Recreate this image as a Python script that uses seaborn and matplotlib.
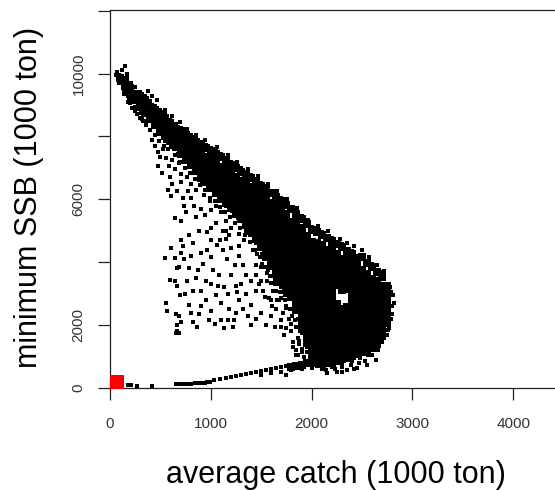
import matplotlib
matplotlib.use('Agg')
import matplotlib.pyplot as plt
import pandas as pd
import seaborn as sns

# solid part of the cloud, ssb values by catch column
core_catch = [100, 150, 200, 250, 300, 350, 400, 450, 500, 550, 600, 650, 700, 750, 800, 850, 900, 950,
              1000, 1050, 1100, 1150, 1200, 1250, 1300, 1350, 1400, 1450, 1500, 1550, 1600, 1650, 1700,
              1750, 1800, 1850, 1900, 1950, 2000, 2050, 2100, 2150, 2200, 2250, 2300, 2350, 2400, 2450,
              2500, 2550, 2600, 2650, 2700, 2750]
core_ssb = [
    [9850], [9600, 9780], [9350, 9550], [9150, 9350], [8950, 9150, 9300], [8750, 8950, 9150],
    [8550, 8750, 8950], [8350, 8550, 8750, 8850], [8200, 8400, 8600, 8720], [8000, 8200, 8400, 8580],
    [7850, 8050, 8250, 8430], [7650, 7850, 8050, 8250], [7450, 7650, 7850, 8050, 8170],
    [7250, 7450, 7650, 7850, 8050], [7100, 7300, 7500, 7700, 7920], [6900, 7100, 7300, 7500, 7700, 7830],
    [6720, 6920, 7120, 7320, 7520, 7720], [6550, 6750, 6950, 7150, 7350, 7620],
    [6350, 6550, 6750, 6950, 7150, 7350, 7530], [6200, 6400, 6600, 6800, 7000, 7200, 7430],
    [6020, 6220, 6420, 6620, 6820, 7020, 7330], [5880, 6080, 6280, 6480, 6680, 6880, 7080, 7220],
    [5720, 5920, 6120, 6320, 6520, 6720, 6920, 7090], [5520, 5720, 5920, 6120, 6320, 6520, 6720, 6980],
    [5370, 5570, 5770, 5970, 6170, 6370, 6570, 6880], [5170, 5370, 5570, 5770, 5970, 6170, 6370, 6570, 6780],
    [4980, 5180, 5380, 5580, 5780, 5980, 6180, 6380, 6670], [4730, 4930, 5130, 5330, 5530, 5730, 5930, 6130, 6330, 6560],
    [4470, 4670, 4870, 5070, 5270, 5470, 5670, 5870, 6070, 6270, 6430],
    [4170, 4370, 4570, 4770, 4970, 5170, 5370, 5570, 5770, 5970, 6170, 6320],
    [3880, 4080, 4280, 4480, 4680, 4880, 5080, 5280, 5480, 5680, 5880, 6190],
    [3640, 3840, 4040, 4240, 4440, 4640, 4840, 5040, 5240, 5440, 5640, 5840, 6060],
    [3380, 3580, 3780, 3980, 4180, 4380, 4580, 4780, 4980, 5180, 5380, 5580, 5780, 5940],
    [3130, 3330, 3530, 3730, 3930, 4130, 4330, 4530, 4730, 4930, 5130, 5330, 5530, 5810],
    [680, 2880, 3080, 3280, 3480, 3680, 3880, 4080, 4280, 4480, 4680, 4880, 5080, 5280, 5680],
    [700, 2480, 2680, 2880, 3080, 3280, 3480, 3680, 3880, 4080, 4280, 4480, 4680, 4880, 5080, 5280, 5540],
    [720, 1880, 2080, 2280, 2480, 2680, 2880, 3080, 3280, 3480, 3680, 3880, 4080, 4280, 4480, 4680, 4880, 5080, 5380],
    [780, 1420, 1620, 1820, 2020, 2220, 2420, 2620, 2820, 3020, 3220, 3420, 3620, 3820, 4020, 4220, 4420, 4620, 4820, 5200],
    [840, 1040, 1240, 1440, 1640, 1840, 2040, 2240, 2440, 2640, 2840, 3040, 3240, 3440, 3640, 3840, 4040, 4240, 4440, 4640, 5030],
    [800, 1000, 1200, 1400, 1600, 1800, 2000, 2200, 2400, 2600, 2800, 3000, 3200, 3400, 3600, 3800, 4000, 4200, 4400, 4600, 4960],
    [760, 960, 1160, 1360, 1560, 1760, 1960, 2160, 2360, 2560, 2760, 2960, 3160, 3360, 3560, 3760, 3960, 4160, 4360, 4560, 4880],
    [780, 980, 1180, 1380, 1580, 1780, 1980, 2180, 2380, 2580, 2780, 2980, 3180, 3380, 3580, 3780, 3980, 4180, 4380, 4780],
    [810, 1010, 1210, 1410, 1610, 1810, 2010, 2210, 2410, 2610, 2810, 3010, 3210, 3410, 3610, 3810, 4010, 4210, 4410, 4680],
    [860, 1060, 1260, 1460, 1660, 1860, 2060, 2260, 2460, 2660, 3260, 3460, 3660, 3860, 4060, 4260, 4570],
    [910, 1110, 1310, 1510, 1710, 1910, 2110, 2310, 2510, 3110, 3310, 3510, 3710, 3910, 4110, 4470],
    [960, 1160, 1360, 1560, 1760, 1960, 2160, 2360, 2560, 3160, 3360, 3560, 3760, 3960, 4160, 4370],
    [1020, 1220, 1420, 1620, 1820, 2020, 2220, 2420, 2620, 2820, 3020, 3220, 3420, 3620, 3820, 4020, 4270],
    [1080, 1280, 1480, 1680, 1880, 2080, 2280, 2480, 2680, 2880, 3080, 3280, 3480, 3680, 3880, 4120],
    [1160, 1360, 1560, 1760, 1960, 2160, 2360, 2560, 2760, 2960, 3160, 3360, 3560, 3760, 4150],
    [1210, 1410, 1610, 1810, 2010, 2210, 2410, 2610, 2810, 3010, 3210, 3410, 3610, 3990],
    [1260, 1460, 1660, 1860, 2060, 2260, 2460, 2660, 2860, 3060, 3260, 3460, 3850],
    [1410, 1610, 1810, 2010, 2210, 2410, 2610, 2810, 3010, 3210, 3410, 3700],
    [1650, 1850, 2050, 2250, 2450, 2650, 2850, 3050, 3250, 3520],
    [2060, 2260, 2460, 2660, 2860, 3060, 3240],
]

# small rough dots on the rim of the cloud and the lower tail
rim_catch = [90, 130, 170, 210, 250, 300, 350, 400, 450, 500, 550, 600, 650, 700, 750, 800, 850, 900,
             950, 1000, 1050, 1100, 1150, 1200, 1250, 1300, 1350, 1400, 1450, 1500, 1550, 1600, 1650,
             1700, 1750, 1800, 1850, 1900, 1950, 2000, 2100, 2200, 2300, 2400, 2500, 2600, 2680, 2740,
             2780, 2800, 2790, 2770, 2720, 2640, 2560, 2480, 2400, 2300, 2200, 2100, 2000, 1950, 1900, 1870,
             1830, 1770, 1700, 1640, 1570, 1510, 1450, 1390, 1330, 1270, 1210, 1150, 1090, 1030, 970, 910,
             850, 790, 730, 670, 610, 550, 490, 430, 370, 310, 250, 190, 140,
             1030, 1090, 1150, 1200, 1250, 1300, 1350, 1400, 1450, 1500, 1550, 1600, 1650, 1700, 1750, 1800,
             1850, 1900, 1950, 2000, 1500, 1600, 1700, 1800, 1900, 2000]
rim_ssb = [9950, 9850, 9800, 9700, 9560, 9420, 9270, 9120, 8970, 8850, 8700, 8520, 8400, 8270, 8150, 8030, 7930, 7830,
           7730, 7630, 7530, 7430, 7300, 7180, 7080, 6980, 6870, 6770, 6650, 6530, 6410, 6270, 6150,
           6030, 5900, 5770, 5630, 5470, 5290, 5120, 4970, 4780, 4570, 4370, 4230, 3930, 3680, 3300,
           2950, 2600, 2200, 1900, 1600, 1230, 1060, 950, 850, 760, 670, 620, 820, 1150, 1750, 2200,
           2650, 2950, 3200, 3450, 3750, 4250, 4600, 4850, 5170, 5420, 5620, 5800, 5980, 6180, 6350, 6540,
           6830, 7020, 7220, 7440, 7650, 7860, 8070, 8320, 8500, 8750, 8950, 9150, 9420,
           240, 280, 310, 340, 370, 400, 440, 470, 510, 540, 570, 610, 640, 670, 700, 720,
           740, 770, 810, 840, 420, 490, 520, 560, 600, 640]

# separate dots, inside the fan, along the edge and near zero
dot_catch = [60, 90, 70, 120, 150, 170, 135, 200, 250, 300, 330, 380, 420, 470, 550, 620, 690, 760, 850, 940,
             1060, 1170, 1260, 1370, 1470, 1570, 1660, 1760, 1860, 1960, 2060, 2160, 2280, 2350, 2420, 2500, 2570, 2650, 2720, 2780,
             2810, 2820, 2800, 2790, 2760, 2750, 2700, 2660, 2600, 2530, 2470, 2390, 2300, 2230, 2140,
             420, 450, 480, 500, 530, 560, 590, 620, 640, 680, 700, 600, 620, 700, 760, 800, 850, 880, 770, 720, 660, 800,
             930, 990, 1050, 1000, 900, 940, 1100, 1150, 1200, 1120, 1050, 850, 750, 700, 640, 880, 960, 1000, 1280, 1330,
             1350, 1420, 545, 640, 660, 680, 700, 720, 600, 640, 660, 690, 740, 560, 570, 650, 680, 700, 660, 665, 650, 680,
             780, 800, 820, 860, 880, 900, 950, 1000, 900, 850, 870, 920, 900, 960, 1000, 1020, 1080, 1130, 1170, 1100,
             1000, 1040, 1100, 1130, 1220, 1250, 1180, 1280, 1350, 1400, 1450, 1500, 1550, 1600, 1650, 1700, 1750, 1300, 1350, 1400,
             1450, 1500, 1200, 1240, 1160, 1120, 1060, 1200, 1280, 1320, 1450, 1500, 1560, 1620, 1600, 1750, 1730, 1800, 1780, 1850,
             1150, 1000, 800, 780, 760, 820, 1050, 980, 1230, 1400, 1370, 1480, 1540, 1610, 1680, 1740, 1810, 1870, 1700, 1820,
             180, 195, 210, 270, 415, 650, 680, 710, 740, 770, 800, 840, 870, 900, 940, 960, 990,
             1880, 1900, 1920, 1950, 2050, 2150, 2250, 2350, 2450, 2550, 2640, 1750, 1850, 2300, 2420,
             180, 220, 270, 320, 360, 400, 450, 490, 540, 580, 640, 690, 740, 790, 840, 890, 940, 990, 1040, 1090,
             1140, 1190, 1240, 1290, 1340, 1390, 1440, 1490, 1540, 1590, 1640, 1690, 1740, 1790, 1840, 1880,
             1560, 1510, 1460, 1600, 1650, 1700, 1750, 1450, 1520, 1580, 1660, 1720, 1800, 1640, 1820, 1850, 1900, 1870,
             480, 520, 580, 610, 730, 830, 1150, 1280, 1180, 1090, 780, 700, 610, 820, 730, 950, 1070, 1250, 1170, 1320, 1260]
dot_ssb = [9950, 9700, 10050, 10100, 10230, 10000, 9350, 9050, 8800, 8600, 8500, 9450, 9300, 9150, 8850, 8650, 8450, 8250, 8050, 7900,
           7650, 7400, 7200, 6950, 6750, 6500, 6250, 6000, 5720, 5330, 5150, 4980, 4750, 4600, 4500, 4400, 4180, 3900, 3720, 3200,
           2950, 2700, 2350, 3050, 1850, 1700, 1450, 1200, 1050, 850, 780, 720, 680, 600, 560,
           7900, 7700, 7500, 7350, 7600, 7300, 7050, 7250, 6950, 7150, 6800, 6700, 6500, 6550, 6700, 6500, 6300, 6600, 6250, 6050, 6250, 6050,
           6150, 5950, 5800, 5650, 5700, 5500, 5600, 5300, 5100, 5000, 5250, 5450, 5600, 5300, 5400, 5000, 4950, 5100, 4900, 4700,
           5000, 4400, 4130, 4130, 3800, 3850, 4300, 4500, 3450, 3400, 3250, 2950, 3000, 2700, 2450, 2350, 2300, 2100, 1800, 2000, 1750, 1750,
           2650, 2400, 2100, 1950, 2350, 2600, 2800, 3300, 3100, 3500, 3750, 3950, 4300, 4400, 4150, 3750, 3600, 3200, 3000, 2700,
           2450, 2050, 2150, 1900, 1950, 2400, 2500, 2800, 3000, 2650, 2200, 2400, 2000, 2300, 2500, 2150, 2600, 3300, 3600, 3400,
           3100, 3400, 3600, 3900, 4100, 4400, 4550, 4450, 4200, 3900, 3900, 3850, 3400, 3100, 2800, 1900, 1700, 1800, 2200, 1950,
           4750, 4700, 4200, 3800, 3400, 3100, 2950, 2150, 2150, 2000, 2300, 3300, 2900, 2600, 2800, 2950, 2300, 1600, 1950, 1450,
           80, 80, 80, 70, 60, 130, 130, 130, 130, 130, 130, 150, 160, 170, 170, 200, 190,
           1400, 1150, 1000, 1300, 700, 480, 500, 560, 640, 720, 880, 420, 1050, 520, 600,
           9100, 8900, 8700, 8550, 8350, 8200, 8050, 7850, 7700, 7600, 7400, 7200, 7000, 6850, 6650, 6450, 6300, 6050, 5950, 5750,
           5600, 5450, 5250, 5100, 4850, 4650, 4400, 4150, 3850, 3550, 3300, 3050, 2800, 2500, 2150, 1500,
           3650, 3950, 4250, 3350, 3100, 2850, 2550, 3600, 3100, 2850, 2800, 2400, 2050, 1950, 1300, 1200, 1250, 1050,
           7050, 6850, 6300, 6100, 5800, 5800, 5000, 4500, 4850, 4700, 4850, 4700, 4450, 4600, 4100, 3400, 3250, 3250, 2150, 2500, 3050]

# red square
target_catch = [70]
target_ssb = [200]

x_ticks = [0, 1000, 2000, 3000, 4000]
y_ticks = [0, 2000, 4000, 6000, 8000, 10000, 12000]
y_tick_labels = ['0', '2000', '', '6000', '', '10000', '']

plt.rcParams['font.family'] = ['Liberation Sans', 'DejaVu Sans']

core = pd.DataFrame({'catch': core_catch, 'ssb': core_ssb}).explode('ssb')
core['ssb'] = core['ssb'].astype(float)

fig = plt.figure(figsize=(5.55, 4.9), dpi=100)
ax = fig.add_axes([110 / 555, 102 / 490, 445 / 555, 378 / 490])

sns.scatterplot(data=core, x='catch', y='ssb', marker='s', s=32, color='black', linewidth=0, ax=ax)
sns.scatterplot(x=rim_catch, y=rim_ssb, marker='s', s=9, color='black', linewidth=0, ax=ax)
sns.scatterplot(x=dot_catch, y=dot_ssb, marker='s', s=5, color='black', linewidth=0, ax=ax)
sns.scatterplot(x=target_catch, y=target_ssb, marker='s', s=100, color='#ff0000', linewidth=0, ax=ax, zorder=5)

ax.set_xlim(0, 4415)
ax.set_ylim(0, 12020)
ax.set_xticks(x_ticks)
ax.set_yticks(y_ticks)
ax.set_yticklabels(y_tick_labels, rotation=90, va='center')
ax.tick_params(length=8.6, width=0.9, color='#222222', labelcolor='#333333', labelsize=11)
ax.tick_params(axis='x', pad=12)
ax.tick_params(axis='y', pad=9)

ax.spines['right'].set_visible(False)
for side in ['left', 'bottom', 'top']:
    ax.spines[side].set_linewidth(0.9)
    ax.spines[side].set_color('#222222')

ax.set_xlabel('average catch (1000 ton)', fontsize=22)
ax.set_ylabel('minimum SSB (1000 ton)', fontsize=22)
ax.xaxis.set_label_coords((336 - 110) / 445, -72 / 378)
ax.yaxis.set_label_coords(-66 / 445, (388 - 197) / 378)

fig.savefig('out.png', dpi=100)
